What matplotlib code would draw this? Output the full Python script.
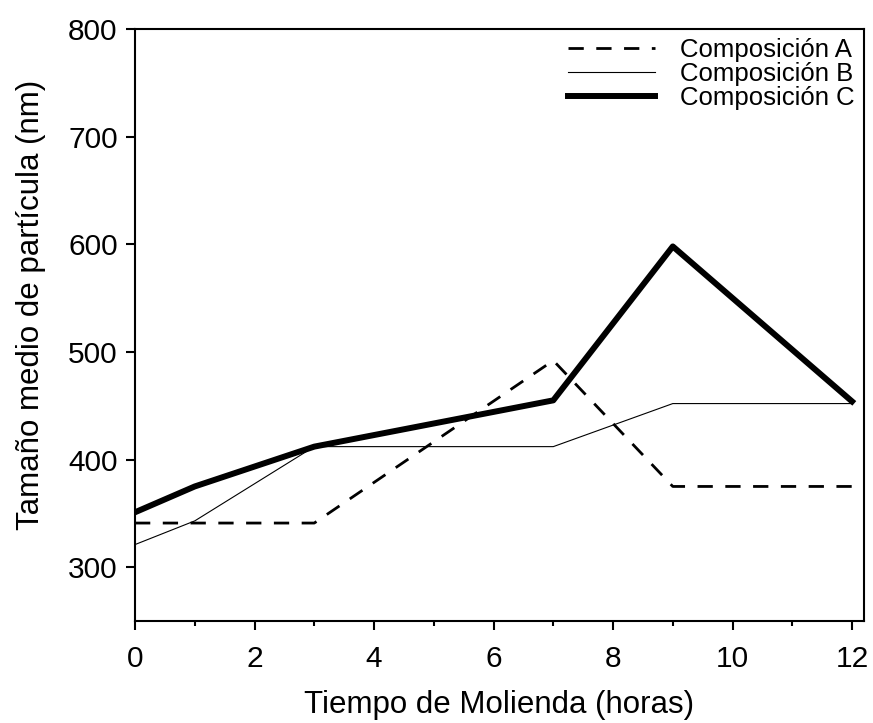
import matplotlib
matplotlib.use("Agg")
import matplotlib.pyplot as plt
from matplotlib.ticker import MultipleLocator

plt.rcParams['font.family'] = ['Liberation Sans', 'DejaVu Sans']

# molienda (horas) y tamaño medio de partícula (nm)
horas = [0, 1, 3, 7, 9, 12]
comp_a = [341, 341, 341, 492, 375, 375]
comp_b = [321, 343, 412, 412, 452, 452]
comp_c = [351, 375, 412, 455, 598, 454]
labels = ["Composición A", "Composición B", "Composición C"]

fig = plt.figure(figsize=(8.73, 7.23), dpi=100)
ax = fig.add_axes([135 / 873, 1 - 621 / 723, (864 - 135) / 873, (621 - 29) / 723])

ax.plot(horas, comp_a, color="black", lw=2.0, ls=(0, (5.5, 4.5)), label=labels[0])
ax.plot(horas, comp_b, color="black", lw=0.8, label=labels[1])
ax.plot(horas, comp_c, color="black", lw=4.3, label=labels[2])

ax.set_xlim(0, 12.2)
ax.set_ylim(250, 800)
ax.xaxis.set_major_locator(MultipleLocator(2))
ax.xaxis.set_minor_locator(MultipleLocator(1))
ax.yaxis.set_major_locator(MultipleLocator(100))

for s in ax.spines.values():
    s.set_linewidth(1.5)
ax.tick_params(which="major", direction="out", length=6.5, width=1.5,
               labelsize=21.5, pad=6)
ax.tick_params(which="minor", direction="out", length=3.5, width=1.5)
ax.tick_params(axis="x", pad=11)

ax.set_xlabel("Tiempo de Molienda (horas)", fontsize=22.5, labelpad=12)
ax.set_ylabel("Tamaño medio de partícula (nm)", fontsize=22.5)
ax.yaxis.set_label_coords(-0.122, 0.534)

ax.legend(loc="upper right", frameon=False, fontsize=18.5, handlelength=3.4,
          handletextpad=0.97, labelspacing=0.0, borderaxespad=0.15,
          borderpad=0.2)

fig.savefig("out.png", dpi=100)
